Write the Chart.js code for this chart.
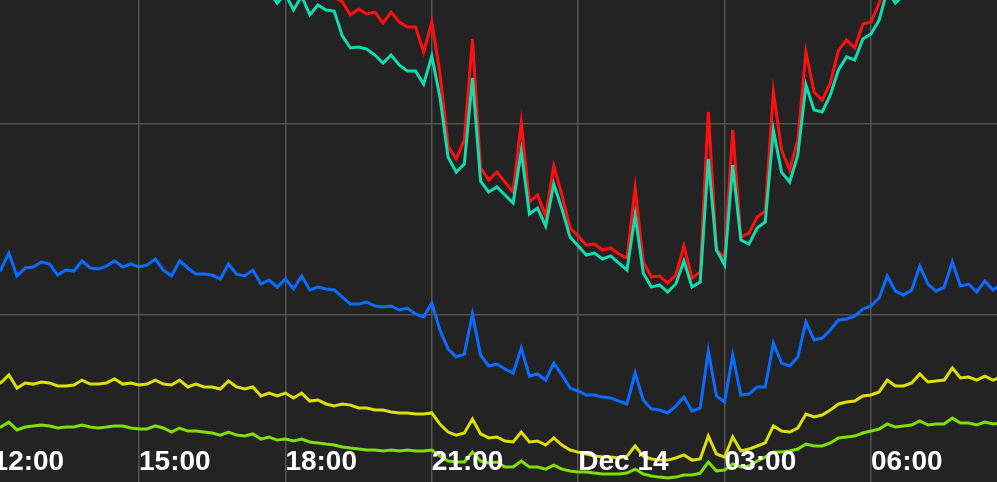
<!DOCTYPE html>
<html>
<head>
<meta charset="utf-8">
<script src="https://cdn.jsdelivr.net/npm/chart.js@4.4.1/dist/chart.umd.min.js"></script>
<style>
  html, body { margin: 0; padding: 0; background: #232323; overflow: hidden; }
  #wrap { width: 997px; height: 482px; position: relative; }
</style>
</head>
<body>
<div id="wrap"><canvas id="chart"></canvas></div>
<script>
// samples every 10 minutes, starting 12:00 (hours since midnight of Dec 13)
const startHour = 12;
const stepHours = 1 / 6;

const red = [
  null, null, null, null, null, null, null, null, null, null,
  null, null, null, null, null, null, null, null, null, null,
  null, null, null, null, null, null, null, null, null, null,
  null, null, null, null, null, null, null, null, null, null,
  null, 2754, 2665, 2639, 2571, 2602, 2576, 2586, 2529, 2586,
  2534, 2508, 2508, 2377, 2534, 2267, 1885, 1817, 1916, 2445,
  1769, 1707, 1748, 1696, 1644, 2005, 1591, 1628, 1518, 1780,
  1628, 1455, 1413, 1366, 1371, 1340, 1351, 1319, 1298, 1665,
  1277, 1199, 1204, 1167, 1209, 1361, 1193, 1225, 2063, 1340,
  1303, 1968, 1408, 1429, 1513, 1544, 2167, 1864, 1759, 1916,
  2377, 2167, 2125, 2214, 2387, 2440, 2398, 2523, 2534, 2633,
  2754, 2701, 2754, 2806, null, null, null, null, null, null,
  null, null, null, null, null
];

const teal = [
  null, null, null, null, null, null, null, null, null, null,
  null, null, null, null, null, null, null, null, null, null,
  null, null, null, null, null, null, null, null, null, null,
  null, null, null, 2728, 2691, 2633, 2680, 2597, 2670, 2571,
  2623, 2597, 2591, 2461, 2398, 2403, 2392, 2361, 2319, 2361,
  2309, 2277, 2277, 2209, 2356, 2141, 1827, 1748, 1790, 2241,
  1701, 1644, 1670, 1628, 1586, 1858, 1529, 1560, 1466, 1686,
  1555, 1408, 1361, 1314, 1324, 1293, 1309, 1272, 1235, 1523,
  1220, 1146, 1157, 1120, 1162, 1282, 1146, 1172, 1817, 1340,
  1262, 1785, 1392, 1371, 1455, 1487, 1968, 1748, 1696, 1837,
  2204, 2073, 2063, 2152, 2283, 2351, 2335, 2445, 2471, 2544,
  2701, 2633, 2675, 2728, 2806, 2780, null, null, null, null,
  null, null, null, null, null
];

const blue = [
  1246, 1235, 1324, 1204, 1246, 1251, 1277, 1267, 1209, 1235,
  1230, 1283, 1246, 1241, 1256, 1283, 1251, 1267, 1251, 1262,
  1293, 1235, 1204, 1283, 1246, 1214, 1214, 1209, 1188, 1267,
  1214, 1204, 1235, 1162, 1183, 1146, 1188, 1136, 1204, 1131,
  1146, 1136, 1131, 1094, 1057, 1057, 1068, 1047, 1042, 1047,
  1026, 1036, 1005, 989, 1063, 921, 822, 780, 795, 1005,
  790, 733, 743, 717, 696, 827, 680, 691, 659, 748,
  686, 617, 602, 581, 581, 570, 565, 549, 534, 696,
  555, 508, 502, 487, 523, 570, 497, 513, 811, 576,
  544, 790, 581, 586, 623, 623, 853, 748, 733, 780,
  963, 869, 879, 921, 974, 979, 994, 1031, 1047, 1089,
  1204, 1125, 1104, 1131, 1256, 1162, 1125, 1146, 1277, 1152,
  1162, 1120, 1178, 1131, 1157
];

const yellow = [
  638, 644, 686, 617, 644, 638, 649, 644, 628, 628,
  633, 659, 638, 638, 644, 665, 638, 644, 633, 638,
  659, 638, 633, 659, 623, 638, 623, 623, 612, 654,
  623, 612, 623, 576, 591, 576, 591, 565, 591, 549,
  555, 534, 523, 534, 528, 513, 513, 502, 502, 492,
  487, 487, 481, 481, 487, 429, 387, 371, 382, 455,
  377, 356, 361, 340, 335, 387, 335, 340, 319, 356,
  319, 293, 282, 272, 261, 256, 256, 251, 261, 314,
  261, 246, 240, 240, 251, 267, 240, 246, 366, 272,
  256, 361, 288, 298, 314, 330, 419, 392, 387, 408,
  481, 466, 476, 502, 534, 544, 549, 576, 581, 597,
  659, 628, 628, 644, 691, 649, 654, 659, 722, 670,
  675, 659, 680, 659, 675
];

const green = [
  413, 413, 439, 398, 413, 419, 424, 419, 408, 413,
  413, 424, 413, 408, 413, 419, 419, 408, 403, 403,
  419, 408, 387, 408, 392, 392, 387, 382, 371, 387,
  371, 366, 377, 350, 361, 345, 350, 340, 350, 335,
  330, 324, 319, 309, 303, 298, 293, 293, 288, 293,
  288, 293, 288, 288, 293, 261, 235, 230, 230, 282,
  235, 225, 230, 204, 204, 235, 204, 204, 193, 214,
  193, 183, 178, 178, 172, 167, 167, 167, 172, 193,
  167, 157, 151, 146, 151, 162, 162, 172, 230, 183,
  188, 220, 204, 209, 235, 256, 282, 282, 288, 298,
  324, 314, 314, 330, 356, 361, 366, 382, 392, 403,
  429, 413, 419, 424, 445, 424, 429, 429, 460, 434,
  434, 424, 439, 429, 434
];

const xTickHours = [12, 15, 18, 21, 24, 27, 30];
const xTickLabels = ['12:00', '15:00', '18:00', '21:00', 'Dec 14', '03:00', '06:00'];
const yTickValues = [1000, 2000];

const toPoints = vals => vals.map((v, i) => ({ x: startHour + i * stepHours, y: v }));

const series = [
  { label: 'teal', data: teal, color: '#12dcae' },
  { label: 'red', data: red, color: '#ff1010' },
  { label: 'blue', data: blue, color: '#0a6dff' },
  { label: 'yellow', data: yellow, color: '#dede0a' },
  { label: 'green', data: green, color: '#7ddf02' },
];

// draw the time labels inside the plot, left-aligned on their grid line
const timeLabels = {
  id: 'timeLabels',
  afterDatasetsDraw(chart) {
    const { ctx } = chart;
    const xScale = chart.scales.x;
    ctx.save();
    ctx.font = 'bold 28px "Liberation Sans", Arial, sans-serif';
    ctx.fillStyle = '#ffffff';
    ctx.textAlign = 'left';
    ctx.textBaseline = 'alphabetic';
    xTickHours.forEach((h, i) => {
      ctx.fillText(xTickLabels[i], xScale.getPixelForValue(h), 470);
    });
    ctx.restore();
  }
};

new Chart(document.getElementById('chart'), {
  type: 'line',
  data: {
    datasets: series.map(s => ({
      label: s.label,
      data: toPoints(s.data),
      borderColor: s.color,
      borderWidth: 3,
      pointRadius: 0,
      tension: 0,
      fill: false,
    })),
  },
  options: {
    responsive: true,
    maintainAspectRatio: false,
    animation: false,
    layout: { padding: 0 },
    plugins: {
      legend: { display: false },
      tooltip: { enabled: false },
    },
    scales: {
      x: {
        type: 'linear',
        min: 12.152,
        max: 32.582,
        afterBuildTicks: axis => { axis.ticks = xTickHours.slice(1).map(v => ({ value: v })); },
        ticks: { display: false },
        grid: { color: '#555555', lineWidth: 1.5, drawTicks: false },
        border: { display: false },
      },
      y: {
        min: 125.4,
        max: 2649.2,
        afterBuildTicks: axis => { axis.ticks = yTickValues.map(v => ({ value: v })); },
        ticks: { display: false },
        grid: { color: '#555555', lineWidth: 1.5, drawTicks: false },
        border: { display: false },
      },
    },
  },
  plugins: [timeLabels],
});
</script>
</body>
</html>
